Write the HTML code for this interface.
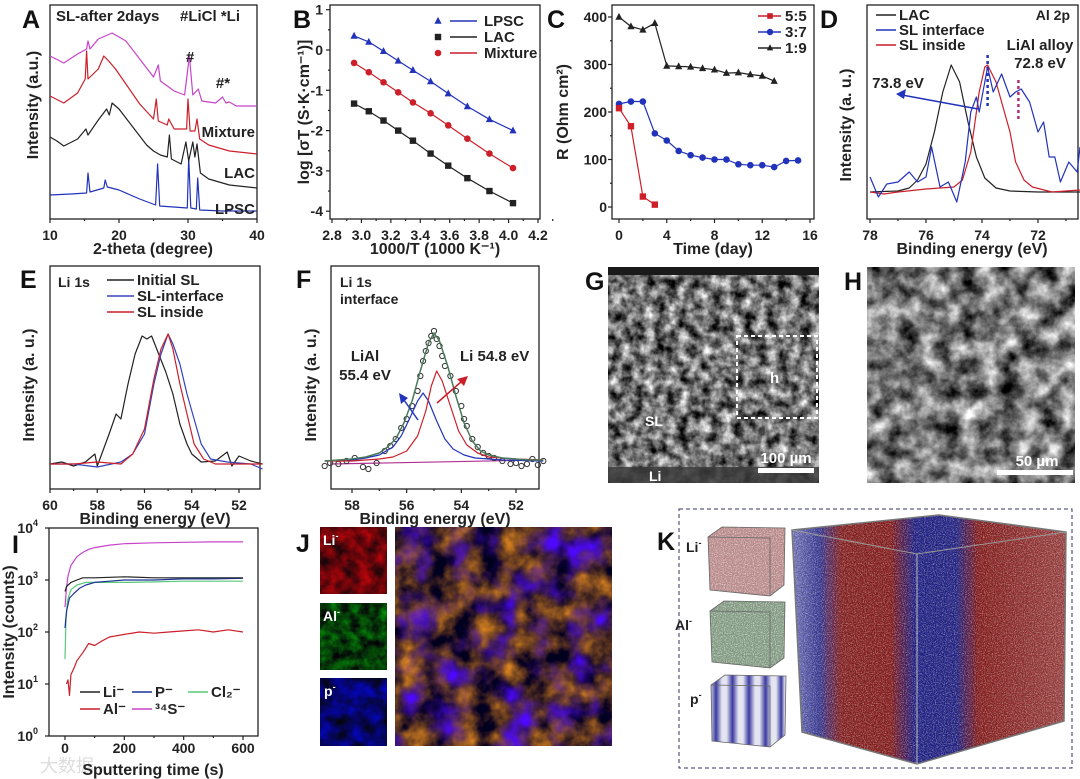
<!DOCTYPE html>
<html><head><meta charset="utf-8">
<style>
html,body{margin:0;padding:0;background:#fff;}
svg{display:block;font-family:"Liberation Sans",Arial,sans-serif;}
filter{color-interpolation-filters:sRGB;}
.tk{font-size:14px;font-weight:bold;fill:#222;}
.ti{font-size:16px;font-weight:bold;fill:#222;}
.pl{font-size:25px;font-weight:bold;fill:#111;}
.lg{font-size:15px;font-weight:bold;fill:#222;}
</style></head>
<body>
<svg id="fig" width="1080" height="779" viewBox="0 0 1080 779" xmlns="http://www.w3.org/2000/svg">
<defs>
 <filter id="semNoise" x="0" y="0" width="100%" height="100%" color-interpolation-filters="sRGB">
  <feTurbulence type="fractalNoise" baseFrequency="0.09" numOctaves="4" seed="3"/>
  <feColorMatrix type="matrix" values="1.5 0 0 0 -0.3  1.5 0 0 0 -0.3  1.5 0 0 0 -0.3  0 0 0 0 1"/>
 </filter>
 <filter id="semNoiseH" x="0" y="0" width="100%" height="100%" color-interpolation-filters="sRGB">
  <feTurbulence type="fractalNoise" baseFrequency="0.05" numOctaves="5" seed="8"/>
  <feColorMatrix type="matrix" values="1.5 0 0 0 -0.28  1.5 0 0 0 -0.28  1.5 0 0 0 -0.28  0 0 0 0 1"/>
 </filter>
 <filter id="redMap" x="0" y="0" width="100%" height="100%" color-interpolation-filters="sRGB">
  <feTurbulence type="fractalNoise" baseFrequency="0.07" numOctaves="4" seed="5"/>
  <feColorMatrix type="matrix" values="1.0 0 0 0 -0.1  0 0 0 0 0.02  0 0 0 0 0.04  0 0 0 0 1"/>
 </filter>
 <filter id="greenMap" x="0" y="0" width="100%" height="100%" color-interpolation-filters="sRGB">
  <feTurbulence type="fractalNoise" baseFrequency="0.1" numOctaves="4" seed="6"/>
  <feColorMatrix type="matrix" values="0 0 0 0 0.02  0.8 0 0 0 -0.16  0 0 0 0 0.03  0 0 0 0 1"/>
 </filter>
 <filter id="blueMap" x="0" y="0" width="100%" height="100%" color-interpolation-filters="sRGB">
  <feTurbulence type="fractalNoise" baseFrequency="0.06" numOctaves="4" seed="7"/>
  <feColorMatrix type="matrix" values="0 0 0 0 0.02  0 0 0 0 0.02  1.2 0 0 0 -0.2  0 0 0 0 1"/>
 </filter>
 <filter id="mixMap" x="0" y="0" width="100%" height="100%" color-interpolation-filters="sRGB">
  <feTurbulence type="fractalNoise" baseFrequency="0.04" numOctaves="4" seed="11"/>
  <feColorMatrix type="matrix" values="0 1.6 0 0 -0.45  0 1.0 0 0 -0.3  0 0 0 0 0.12  0 0 0 0 1" result="warm"/>
  <feTurbulence type="fractalNoise" baseFrequency="0.03" numOctaves="3" seed="21" result="t2"/>
  <feColorMatrix in="t2" type="matrix" values="0 0 0.5 0 -0.1  0 0 0 0 0.03  0 0 1.8 0 -0.45  0 0 2.5 0 -1.0" result="blue"/>
  <feComposite in="blue" in2="warm" operator="over"/>
 </filter>
 <filter id="dots" x="0" y="0" width="100%" height="100%" color-interpolation-filters="sRGB">
  <feTurbulence type="fractalNoise" baseFrequency="0.9" numOctaves="1" seed="2"/>
  <feColorMatrix type="matrix" values="0 0 0 0 1  0 0 0 0 1  0 0 0 0 1  0 0 0 3 -1.3"/>
 </filter>
 <filter id="ddots" x="0" y="0" width="100%" height="100%" color-interpolation-filters="sRGB">
  <feTurbulence type="fractalNoise" baseFrequency="0.8" numOctaves="1" seed="9"/>
  <feColorMatrix type="matrix" values="0 0 0 0 0  0 0 0 0 0  0 0 0 0 0  0 0 0 3 -1.4"/>
 </filter>
 <linearGradient id="cubeGrad" gradientUnits="userSpaceOnUse" x1="792" y1="0" x2="1066" y2="0">
  <stop offset="0" stop-color="#7a7cc0"/>
  <stop offset="0.1" stop-color="#3a3a98"/>
  <stop offset="0.18" stop-color="#8a2222"/>
  <stop offset="0.36" stop-color="#8a1e1e"/>
  <stop offset="0.45" stop-color="#22228a"/>
  <stop offset="0.6" stop-color="#242488"/>
  <stop offset="0.68" stop-color="#8a1e1e"/>
  <stop offset="1" stop-color="#a04444"/>
 </linearGradient>
 <linearGradient id="pStripes" gradientUnits="userSpaceOnUse" x1="710" y1="0" x2="785" y2="0" spreadMethod="repeat">
  <stop offset="0" stop-color="#e4e5f0"/>
  <stop offset="0.08" stop-color="#3a3aa0"/>
  <stop offset="0.16" stop-color="#e4e5f0"/>
  <stop offset="0.22" stop-color="#e4e5f0"/>
  <stop offset="0.3" stop-color="#3a3aa0"/>
  <stop offset="0.38" stop-color="#e4e5f0"/>
  <stop offset="0.44" stop-color="#e4e5f0"/>
  <stop offset="0.52" stop-color="#3a3aa0"/>
  <stop offset="0.6" stop-color="#e4e5f0"/>
  <stop offset="0.66" stop-color="#e4e5f0"/>
  <stop offset="0.74" stop-color="#3a3aa0"/>
  <stop offset="0.82" stop-color="#e4e5f0"/>
  <stop offset="0.88" stop-color="#e4e5f0"/>
  <stop offset="0.95" stop-color="#3a3aa0"/>
  <stop offset="1" stop-color="#e4e5f0"/>
 </linearGradient>
 <clipPath id="cubeClip"><polygon points="792,530 939,515 1066,532 1064,721 917,764 802,732"/></clipPath>
 <clipPath id="liClip"><polygon points="708,537 722,527 785,528 784,585 770,596 710,590"/></clipPath>
 <clipPath id="alClip"><polygon points="710,611 724,601 785,602 784,658 770,668 712,662"/></clipPath>
</defs>

<g>
 <text class="pl" x="585" y="290">G</text>
 <rect x="608" y="267" width="211" height="216" filter="url(#semNoise)"/>
 <rect x="608" y="267" width="211" height="8" fill="#1a1a1a"/>
 <rect x="608" y="467" width="211" height="16" fill="#3a3a3a" opacity="0.85"/>
 <rect x="737" y="336" width="80" height="82" fill="none" stroke="#fff" stroke-width="2" stroke-dasharray="4,3"/>
 <text x="770" y="383" fill="#fff" font-size="15" font-weight="bold">h</text>
 <text x="645" y="426" fill="#fff" font-size="14" font-weight="bold">SL</text>
 <text x="649" y="481" fill="#fff" font-size="14" font-weight="bold">Li</text>
 <text x="786" y="463" fill="#fff" font-size="15" font-weight="bold" text-anchor="middle">100 µm</text>
 <rect x="758" y="468" width="56" height="5" fill="#fff"/>
</g>
<g>
 <text class="pl" x="844" y="290">H</text>
 <rect x="867" y="267" width="208" height="216" filter="url(#semNoiseH)"/>
 <text x="1037" y="466" fill="#fff" font-size="15" font-weight="bold" text-anchor="middle">50 µm</text>
 <rect x="997" y="470" width="76" height="5" fill="#fff"/>
</g>
<g>
 <text class="pl" x="296" y="552">J</text>
 <rect x="320" y="527" width="67" height="67" filter="url(#redMap)"/>
 <rect x="320" y="603" width="67" height="67" filter="url(#greenMap)"/>
 <rect x="320" y="678" width="67" height="68" filter="url(#blueMap)"/>
 <text x="323" y="545" fill="#fff" font-size="14" font-weight="bold">Li<tspan font-size="9" dy="-6">-</tspan></text>
 <text x="323" y="621" fill="#fff" font-size="14" font-weight="bold">Al<tspan font-size="9" dy="-6">-</tspan></text>
 <text x="324" y="696" fill="#fff" font-size="14" font-weight="bold">p<tspan font-size="9" dy="-6">-</tspan></text>
 <rect x="395" y="527" width="217" height="219" fill="#1a0c2a"/>
 <rect x="395" y="527" width="217" height="219" filter="url(#mixMap)"/>
</g>
<g>
 <rect x="679" y="509" width="393" height="259" fill="none" stroke="#336" stroke-width="1" stroke-dasharray="4,3"/>
 <text class="pl" x="657" y="550">K</text>
 <text x="686" y="552" font-size="14" font-weight="bold" fill="#222">Li<tspan font-size="9" dy="-6">-</tspan></text>
 <text x="675" y="630" font-size="14" font-weight="bold" fill="#222">Al<tspan font-size="9" dy="-6">-</tspan></text>
 <text x="690" y="704" font-size="14" font-weight="bold" fill="#222">p<tspan font-size="9" dy="-6">-</tspan></text>
 <g>
  <polygon points="708,537 722,527 785,528 784,585 770,596 710,590" fill="#b88888"/>
  <rect x="708" y="527" width="78" height="70" filter="url(#dots)" opacity="0.6" clip-path="url(#liClip)"/>
  <polygon points="708,537 722,527 785,528 784,585 770,596 710,590" fill="none" stroke="#666" stroke-width="0.8"/>
  <polyline points="708,537 770,538 770,596" fill="none" stroke="#666" stroke-width="0.8"/>
 </g>
 <g>
  <polygon points="710,611 724,601 785,602 784,658 770,668 712,662" fill="#809880"/>
  <rect x="708" y="600" width="78" height="70" filter="url(#dots)" opacity="0.6" clip-path="url(#alClip)"/>
  <polygon points="710,611 724,601 785,602 784,658 770,668 712,662" fill="none" stroke="#666" stroke-width="0.8"/>
  <polyline points="710,611 770,612 770,668" fill="none" stroke="#666" stroke-width="0.8"/>
 </g>
 <g>
  <polygon points="711,685 725,675 786,676 785,735 770,747 712,741" fill="url(#pStripes)"/>
  <polygon points="711,685 725,675 786,676 785,735 770,747 712,741" fill="none" stroke="#666" stroke-width="0.8"/>
  <polyline points="711,685 770,686 770,747" fill="none" stroke="#666" stroke-width="0.8"/>
 </g>
 <g>
  <rect x="790" y="512" width="280" height="255" fill="url(#cubeGrad)" clip-path="url(#cubeClip)"/>
  <rect x="790" y="512" width="280" height="255" filter="url(#dots)" opacity="0.45" clip-path="url(#cubeClip)"/>
  <rect x="790" y="512" width="280" height="255" filter="url(#ddots)" opacity="0.3" clip-path="url(#cubeClip)"/>
  <polygon points="792,530 939,515 1066,532 1064,721 917,764 802,732" fill="none" stroke="#777" stroke-width="1.5"/>
  <polyline points="792,530 917,554 1066,532" fill="none" stroke="#999" stroke-width="1"/>
  <line x1="917" y1="554" x2="917" y2="764" stroke="#bbb" stroke-width="1"/>
 </g>
</g>

<text x="40" y="772" font-size="18" fill="#ddd">大数据</text>

<script>
// ---------- DATA ----------
const lpscTheta=[10,13,15.3,15.5,15.8,17.8,18,18.3,20,23,25.3,25.6,25.9,29.9,30.1,30.4,31.2,31.4,31.7,35,40];
const lpscInt=[24,25,26,46,27,31,39,32,29,20,14,55,13,11,61,11,10,41,9,8,8];
const lacTheta=[10,11,12,14,15.2,15.5,17,18.2,18.6,19,20,22,24,25,26,27,27.3,27.6,29,29.7,30.1,30.7,31,31.3,31.8,33,36,40];
const lacInt=[82,78,73,80,90,84,99,110,104,116,110,92,74,68,64,62,84,60,55,77,58,77,62,75,46,40,34,31];
const mixTheta=[10,12,14,15.1,15.3,15.5,17,17.8,18.5,19.5,21,23,25,25.4,25.7,27,27.2,28,29.8,30,30.3,31,31.3,31.7,33,36,40];
const mixInt=[123,116,126,140,168,140,150,163,158,150,135,115,100,120,98,94,100,90,90,120,88,88,100,80,74,68,65];
const slTheta=[10,12,14,15.3,15.5,15.8,17,19,21,23,25,25.7,26,28,29.5,30.2,30.7,31.5,32,34,35,35.5,36,37,40];
const slInt=[163,156,165,170,178,170,180,186,178,160,142,154,138,128,124,163,124,130,118,116,122,116,117,113,113];
const aTicks=[10,20,30,40];
const bInvT=[2.95,3.05,3.15,3.25,3.35,3.47,3.59,3.72,3.87,4.03];
const bLPSC=[0.35,0.2,-0.03,-0.27,-0.5,-0.78,-1.08,-1.4,-1.72,-2.0];
const bMixture=[-0.32,-0.55,-0.8,-1.05,-1.3,-1.57,-1.87,-2.2,-2.57,-2.93];
const bLAC=[-1.33,-1.52,-1.75,-2.0,-2.25,-2.57,-2.87,-3.18,-3.5,-3.8];
const bXTicks=["2.8","3.0","3.2","3.4","3.6","3.8","4.0","4.2"];
const bYTicks=[1,0,-1,-2,-3,-4];
const c19Days=[0,1,2,3,4,5,6,7,8,9,10,11,12,13];
const c19R=[400,380,373,387,297,296,295,292,289,282,283,279,276,265];
const c37Days=[0,1,2,3,4,5,6,7,8,9,10,11,12,13,14,15];
const c37R=[217,222,222,155,140,118,109,104,100,100,90,88,88,84,97,98];
const c55Days=[0,1,2,3];
const c55R=[208,170,22,5];
const cXTicks=[0,4,8,12,16];
const cYTicks=[0,100,200,300,400];
const dLacE=[78,77,76.6,76.3,76,75.7,75.4,75.1,74.8,74.5,74.2,73.9,73.5,73,72,70.5];
const dLacI=[0,1,4,12,28,60,100,127,110,70,35,14,4,1,0,0];
const dInsideE=[78,77.5,77,76,75,74.7,74.4,74.1,73.9,73.8,73.5,73.2,73,72.8,72.5,72.2,71.5,70.5];
const dInsideI=[0,-2,0,3,5,12,40,100,125,127,110,80,60,30,12,5,0,2];
const dIfaceE=[78,77.7,77.4,77,76.6,76.3,76,75.8,75.5,75.2,74.9,74.6,74.4,74.2,74.1,73.9,73.8,73.6,73.3,73.0,72.8,72.6,72.3,72.0,71.8,71.6,71.4,71.2,70.9,70.6,70.5];
const dIfaceI=[15,-5,8,10,20,10,15,45,5,10,-10,30,80,95,80,110,125,100,118,95,100,103,90,60,70,35,35,10,30,20,45];
const dXTicks=[78,76,74,72];
const eInitE=[60,59.5,59,58.5,58.1,58,57.5,57.2,57,56.7,56.4,56.1,55.9,55.7,55.4,55.1,54.8,54.5,54.2,54,53.6,53,52.5,52.3,52,51.5,51];
const eInitI=[0,2,-2,2,10,-2,30,50,45,80,110,128,125,128,110,92,70,40,20,10,2,3,12,-2,8,3,0];
const eIfaceE=[60,59,58,57,56.5,56,55.6,55.3,55.0,54.8,54.5,54.2,53.9,53.6,53.2,52.5,51.5,51];
const eIfaceI=[0,0,-3,2,10,30,80,110,130,120,100,70,45,20,5,2,0,-5];
const eInsideE=[60,59,58,57,56.5,56,55.6,55.3,55,54.8,54.5,54.2,53.9,53.5,53,51];
const eInsideI=[0,0,2,0,10,35,85,115,130,115,80,50,20,5,0,0];
const eXTicks=[60,58,56,54,52];
const fEnvE=[59,58.5,58,57.5,57,56.7,56.4,56.1,55.8,55.5,55.2,55.0,54.8,54.5,54.2,53.9,53.6,53.3,53,52.5,52,51.5,51];
const fEnvI=[0,1,2,4,8,14,22,38,60,90,118,128,120,95,65,38,20,10,6,3,2,1,1];
const fLiE=[59,58,57,56.5,56,55.6,55.3,55.1,54.9,54.7,54.4,54.1,53.8,53.4,53,52,51];
const fLiI=[0,0,2,4,10,25,50,75,90,80,55,30,16,8,4,2,1];
const fLiAlE=[59,58,57.5,57,56.5,56.2,55.9,55.6,55.4,55.2,54.9,54.6,54.3,53.9,53.5,52.5,51];
const fLiAlI=[0,1,3,6,14,25,42,60,68,60,40,22,12,6,3,1,0];
const fDataE=[59,58.8,58.5,58.2,57.9,57.6,57.4,57.1,56.8,56.6,56.4,56.2,56,55.8,55.6,55.5,55.4,55.3,55.2,55.1,55,54.9,54.8,54.7,54.6,54.4,54.2,54,53.9,53.8,53.6,53.4,53.2,53,52.8,52.5,52.2,52,51.8,51.6,51.4,51.2,51];
const fDataI=[-5,-2,-3,0,3,-6,-8,-2,10,15,22,33,42,55,70,85,100,110,118,125,130,122,115,105,95,85,70,55,42,35,22,14,8,5,3,0,-3,-2,-5,-3,2,-4,0];
const fXTicks=[58,56,54,52];
const iSTime=[0,5,10,20,40,60,80,100,150,200,300,400,500,600];
const iSCounts=[300,700,1200,1900,2800,3400,3900,4200,4700,5000,5200,5300,5400,5400];
const iLiTime=[0,5,20,40,60,100,200,300,400,500,600];
const iLiCounts=[600,750,900,1000,1100,1100,1150,1100,1100,1100,1100];
const iPTime=[0,5,15,30,50,70,100,150,200,300,400,500,600];
const iPCounts=[120,250,450,550,700,800,900,950,1000,1000,1050,1050,1080];
const iClTime=[0,3,8,20,40,70,100,200,300,400,500,600];
const iClCounts=[30,150,400,650,800,900,900,900,920,950,950,950];
const iAlTime=[5,10,15,20,30,40,60,80,100,120,150,200,250,300,350,400,450,500,550,600];
const iAlCounts=[10,12,6,15,20,28,40,60,55,65,80,90,100,95,100,105,110,100,110,100];
const iXTicks=[0,200,400,600];
const iYExp=[0,1,2,3,4];

// ---------- HELPERS ----------
const NS='http://www.w3.org/2000/svg';
const svg=document.getElementById('fig');
function mk(tag,attrs,parent){const e=document.createElementNS(NS,tag);for(const k in attrs)e.setAttribute(k,attrs[k]);(parent||svg).appendChild(e);return e;}
function lin(d0,d1,r0,r1){return v=>r0+(v-d0)*(r1-r0)/(d1-d0);}
function group(name){const g=mk('g',{});


return g;}
function text(g,x,y,s,cls,anchor,name){const t=mk('text',{x:x,y:y,class:cls,'text-anchor':anchor||'start'},g);t.textContent=s;


return t;}
function vtext(g,x,y,s,name){const t=mk('text',{x:0,y:0,class:'ti','text-anchor':'middle',transform:'translate('+x+','+y+') rotate(-90)'},g);t.textContent=s;


return t;}
function frame(g,x0,y0,x1,y1){const r=mk('rect',{x:x0,y:y0,width:x1-x0,height:y1-y0,fill:'none',stroke:'#222','stroke-width':1.3},g);

}
function line(g,xs,ys,sx,sy,color,name,w){const pts=xs.map((v,i)=>sx(v).toFixed(1)+','+sy(ys[i]).toFixed(1)).join(' ');
const p=mk('polyline',{points:pts,fill:'none',stroke:color,'stroke-width':w||1.2,'stroke-linejoin':'round'},g);


return p;}
function marker(g,kind,x,y,color,name,sz){sz=sz||3.6;let m;
if(kind==='tri')m=mk('polygon',{points:`${x},${y-sz-0.5} ${x-sz},${y+sz-0.8} ${x+sz},${y+sz-0.8}`,fill:color},g);
else if(kind==='sq')m=mk('rect',{x:x-sz+0.4,y:y-sz+0.4,width:2*sz-0.8,height:2*sz-0.8,fill:color},g);
else if(kind==='open')m=mk('circle',{cx:x,cy:y,r:sz,fill:'none',stroke:color,'stroke-width':1},g);
else m=mk('circle',{cx:x,cy:y,r:sz,fill:color},g);

}
function xtick(g,x,yb,len){const l=mk('line',{x1:x,y1:yb,x2:x,y2:yb+len,stroke:'#222','stroke-width':1.2},g);

}
function ytick(g,xl,y,len){const l=mk('line',{x1:xl,y1:y,x2:xl-len,y2:y,stroke:'#222','stroke-width':1.2},g);

}

// ---------- PANEL A ----------
(function(){const g=group('panel-a-xrd');
const sx=lin(10,40,50,257), sy=v=>219-v;
frame(g,50,5,257,219);
aTicks.forEach(t=>{xtick(g,sx(t),219,4);text(g,sx(t),240,String(t),'tk','middle','x-tick-label');});
[15,25,35].forEach(t=>xtick(g,sx(t),219,2));
line(g,lpscTheta,lpscInt,sx,sy,'#2233bb','lpsc-pattern');
line(g,lacTheta,lacInt,sx,sy,'#222','lac-pattern');
line(g,mixTheta,mixInt,sx,sy,'#cc1f2a','mixture-pattern');
line(g,slTheta,slInt,sx,sy,'#c844c8','sl-after-2days-pattern');
text(g,22,28,'A','pl','start','panel-label-a');
text(g,56,21,'SL-after 2days','lg','start','sl-series-label').setAttribute('fill','#c844c8');
text(g,180,21,'#LiCl *Li','lg','start','phase-key');
text(g,190,62,'#','lg','middle','licl-peak-mark');
text(g,223,88,'#*','lg','middle','licl-li-peak-mark');
text(g,255,137,'Mixture','lg','end','mixture-label').setAttribute('fill','#cc1f2a');
text(g,255,178,'LAC','lg','end','lac-label');
text(g,255,214,'LPSC','lg','end','lpsc-label').setAttribute('fill','#2233bb');
text(g,153,254,'2-theta (degree)','ti','middle','x-axis-title-a');
vtext(g,38,105,'Intensity (a.u.)','y-axis-title-a');
})();

// ---------- PANEL B ----------
(function(){const g=group('panel-b-arrhenius');
const sx=lin(2.8,4.2,332,538), sy=lin(0,1,50,9.7);
frame(g,330,5,540,219);
bXTicks.forEach(t=>{const v=parseFloat(t);xtick(g,sx(v),219,4);text(g,sx(v),240,t,'tk','middle','x-tick-label');});
bXTicks.forEach(t=>xtick(g,sx(parseFloat(t)+0.1),219,2));
bYTicks.forEach(t=>{ytick(g,330,sy(t),4);text(g,323,sy(t)+5,String(t),'tk','end','y-tick-label');});
[0.5,-0.5,-1.5,-2.5,-3.5].forEach(t=>ytick(g,330,sy(t),2));
line(g,bInvT,bLPSC,sx,sy,'#2233bb','lpsc-fit');
line(g,bInvT,bMixture,sx,sy,'#cc1f2a','mixture-fit');
line(g,bInvT,bLAC,sx,sy,'#222','lac-fit');
bInvT.forEach((v,i)=>{marker(g,'tri',sx(v),sy(bLPSC[i]),'#2233bb','lpsc-point');marker(g,'dot',sx(v),sy(bMixture[i]),'#cc1f2a','mixture-point',3.3);marker(g,'sq',sx(v),sy(bLAC[i]),'#222','lac-point');});
marker(g,'tri',438,21,'#2233bb','legend-lpsc-marker');mk('line',{x1:450,y1:21,x2:477,y2:21,stroke:'#2233bb','stroke-width':1.5},g);text(g,484,26,'LPSC','lg','start','legend-lpsc');
marker(g,'sq',438,37,'#222','legend-lac-marker');mk('line',{x1:450,y1:37,x2:477,y2:37,stroke:'#222','stroke-width':1.5},g);text(g,484,42,'LAC','lg','start','legend-lac');
marker(g,'dot',438,53,'#cc1f2a','legend-mixture-marker',3.3);mk('line',{x1:450,y1:53,x2:477,y2:53,stroke:'#cc1f2a','stroke-width':1.5},g);text(g,484,58,'Mixture','lg','start','legend-mixture');
text(g,293,28,'B','pl','start','panel-label-b');
text(g,435,254,'1000/T (1000 K\u207B\u00B9)','ti','middle','x-axis-title-b');
vtext(g,309,112,'log [\u03C3T (S\u00B7K\u00B7cm\u207B\u00B9)]','y-axis-title-b');
})();

// ---------- PANEL C ----------
(function(){const g=group('panel-c-resistance');
const sx=lin(0,16,619,810), sy=lin(0,400,207,17);
frame(g,612,5,814,219);
cXTicks.forEach(t=>{xtick(g,sx(t),219,4);text(g,sx(t),240,String(t),'tk','middle','x-tick-label');});
[2,6,10,14].forEach(t=>xtick(g,sx(t),219,2));
cYTicks.forEach(t=>{ytick(g,612,sy(t),4);text(g,607,sy(t)+5,String(t),'tk','end','y-tick-label');});
[50,150,250,350].forEach(t=>ytick(g,612,sy(t),2));
line(g,c19Days,c19R,sx,sy,'#222','ratio-1-9-line');
line(g,c37Days,c37R,sx,sy,'#2233bb','ratio-3-7-line');
line(g,c55Days,c55R,sx,sy,'#cc1f2a','ratio-5-5-line');
c19Days.forEach((d,i)=>marker(g,'tri',sx(d),sy(c19R[i]),'#222','ratio-1-9-point'));
c37Days.forEach((d,i)=>marker(g,'dot',sx(d),sy(c37R[i]),'#2233bb','ratio-3-7-point',3.3));
c55Days.forEach((d,i)=>marker(g,'sq',sx(d),sy(c55R[i]),'#cc1f2a','ratio-5-5-point'));
[[16,'#cc1f2a','sq','5:5'],[32,'#2233bb','dot','3:7'],[48,'#222','tri','1:9']].forEach(r=>{mk('line',{x1:758,y1:r[0],x2:781,y2:r[0],stroke:r[1],'stroke-width':1.5},g);marker(g,r[2],770,r[0],r[1],'legend-marker',3.2);text(g,785,r[0]+5,r[3],'lg','start','legend-'+r[3].replace(':','-'));});
text(g,547,28,'C','pl','start','panel-label-c');
text(g,713,254,'Time (day)','ti','middle','x-axis-title-c');
vtext(g,568,112,'R (Ohm cm\u00B2)','y-axis-title-c');
})();

// ---------- PANEL D ----------
(function(){const g=group('panel-d-al2p');
const sx=lin(78,72,870,1038), sy=v=>192-v;
frame(g,867,5,1078,219);
dXTicks.forEach(t=>{xtick(g,sx(t),219,4);text(g,sx(t),240,String(t),'tk','middle','x-tick-label');});
[77,75,73,71].forEach(t=>xtick(g,sx(t),219,2));
line(g,dLacE,dLacI,sx,sy,'#222','lac-spectrum');
line(g,dInsideE,dInsideI,sx,sy,'#cc1f2a','sl-inside-spectrum');
line(g,dIfaceE,dIfaceI,sx,sy,'#2233bb','sl-interface-spectrum');
mk('line',{x1:sx(73.8),y1:55,x2:sx(73.8),y2:108,stroke:'#2233bb','stroke-width':2.5,'stroke-dasharray':'3,3'},g);
mk('line',{x1:sx(72.7),y1:80,x2:sx(72.7),y2:120,stroke:'#b0307a','stroke-width':2.5,'stroke-dasharray':'3,3'},g);
mk('line',{x1:978,y1:109,x2:902,y2:95,stroke:'#2233bb','stroke-width':1.5},g);
mk('polygon',{points:'896,94 906,89 904,99',fill:'#2233bb'},g);
[[15,'#222','LAC'],[30,'#2233bb','SL interface'],[45,'#cc1f2a','SL inside']].forEach(r=>{mk('line',{x1:876,y1:r[0],x2:896,y2:r[0],stroke:r[1],'stroke-width':1.5},g);text(g,899,r[0]+5,r[2],'lg','start','legend-'+r[2].toLowerCase().replace(' ','-'));});
text(g,1070,20,'Al 2p','tk','end','spectrum-label-al2p');
text(g,1040,50,'LiAl alloy','lg','middle','lial-alloy-label').setAttribute('fill','#c02a50');
text(g,1040,68,'72.8 eV','lg','middle','lial-energy-label').setAttribute('fill','#c02a50');
text(g,898,88,'73.8 eV','lg','middle','shift-energy-label').setAttribute('fill','#2233bb');
text(g,820,28,'D','pl','start','panel-label-d');
text(g,972,254,'Binding energy (eV)','ti','middle','x-axis-title-d');
vtext(g,851,125,'Intensity (a. u.)','y-axis-title-d');
})();

// ---------- PANEL E ----------
(function(){const g=group('panel-e-li1s');
const sx=lin(60,52,50,239), sy=v=>464-v;
frame(g,50,266,260,489);
eXTicks.forEach(t=>{xtick(g,sx(t),489,4);text(g,sx(t),510,String(t),'tk','middle','x-tick-label');});
[59,57,55,53].forEach(t=>xtick(g,sx(t),489,2));
line(g,eInitE,eInitI,sx,sy,'#222','initial-sl-spectrum');
line(g,eIfaceE,eIfaceI,sx,sy,'#3344bb','sl-interface-spectrum');
line(g,eInsideE,eInsideI,sx,sy,'#cc1f2a','sl-inside-spectrum');
text(g,58,287,'Li 1s','tk','start','spectrum-label-li1s');
[[280,'#222','Initial SL'],[296,'#3344bb','SL-interface'],[312,'#cc1f2a','SL inside']].forEach(r=>{mk('line',{x1:107,y1:r[0],x2:134,y2:r[0],stroke:r[1],'stroke-width':1.5},g);text(g,137,r[0]+5,r[2],'lg','start','legend-'+r[2].toLowerCase().replace(' ','-'));});
text(g,20,288,'E','pl','start','panel-label-e');
text(g,155,524,'Binding energy (eV)','ti','middle','x-axis-title-e');
vtext(g,34,385,'Intensity (a. u.)','y-axis-title-e');
})();

// ---------- PANEL F ----------
(function(){const g=group('panel-f-li1s-fit');
const sx=lin(58,52,352,516), sy=v=>461-v;
frame(g,331,266,539,489);
fXTicks.forEach(t=>{xtick(g,sx(t),489,4);text(g,sx(t),510,String(t),'tk','middle','x-tick-label');});
[57,55,53].forEach(t=>xtick(g,sx(t),489,2));
const bl=mk('line',{x1:331,y1:sy(-3),x2:539,y2:sy(1),stroke:'#b03090','stroke-width':1.2},g);


fDataE.forEach((e,i)=>marker(g,'open',sx(e),sy(fDataI[i]),'#333','measured-point',2.6));
line(g,fLiAlE,fLiAlI,sx,sy,'#2233bb','lial-component');
line(g,fLiE,fLiI,sx,sy,'#cc1f2a','li-component');
line(g,fEnvE,fEnvI,sx,sy,'#4a7a5a','envelope-fit',1.5);
mk('line',{x1:418,y1:420,x2:404,y2:400,stroke:'#2233bb','stroke-width':1.5},g);
mk('polygon',{points:'399,393 408,398 401,404',fill:'#2233bb'},g);
mk('line',{x1:437,y1:403,x2:462,y2:381,stroke:'#cc1f2a','stroke-width':1.5},g);
mk('polygon',{points:'468,376 464,386 457,379',fill:'#cc1f2a'},g);
text(g,340,287,'Li 1s','tk','start','spectrum-label-li1s-f');
text(g,340,304,'interface','tk','start','spectrum-label-interface');
text(g,365,361,'LiAl','lg','middle','lial-label').setAttribute('fill','#2233bb');
text(g,365,380,'55.4 eV','lg','middle','lial-energy-label').setAttribute('fill','#2233bb');
text(g,460,361,'Li 54.8 eV','lg','start','li-energy-label').setAttribute('fill','#cc1f2a');
text(g,296,288,'F','pl','start','panel-label-f');
text(g,435,524,'Binding energy (eV)','ti','middle','x-axis-title-f');
vtext(g,316,385,'Intensity (a. u.)','y-axis-title-f');
})();

// ---------- PANEL I ----------
(function(){const g=group('panel-i-depth-profile');
const sx=lin(0,600,65,243), sy=v=>736-Math.log10(v)*52;
frame(g,49,528,258,736);
iXTicks.forEach(t=>{xtick(g,sx(t),736,4);text(g,sx(t),753,String(t),'tk','middle','x-tick-label');});
[100,300,500].forEach(t=>xtick(g,sx(t),736,2));
iYExp.forEach(e=>{const y=736-e*52;ytick(g,49,y,4);const t=text(g,38,y+5,'10','tk','end','y-tick-label');const s=mk('tspan',{'font-size':'9',dy:'-7'},t);s.textContent=String(e);});
line(g,iSTime,iSCounts,sx,sy,'#c844c8','s34-profile');
line(g,iClTime,iClCounts,sx,sy,'#5ac87a','cl2-profile');
line(g,iPTime,iPCounts,sx,sy,'#1a3399','p-profile');
line(g,iLiTime,iLiCounts,sx,sy,'#222','li-profile');
line(g,iAlTime,iAlCounts,sx,sy,'#cc1f2a','al-profile');
[[80,692,'#222','Li\u207B'],[132,692,'#1a3399','P\u207B'],[188,692,'#5ac87a','Cl\u2082\u207B'],[80,709,'#cc1f2a','Al\u207B'],[132,709,'#c844c8','\u00B3\u2074S\u207B']].forEach(r=>{mk('line',{x1:r[0],y1:r[1],x2:r[0]+20,y2:r[1],stroke:r[2],'stroke-width':1.6},g);text(g,r[0]+23,r[1]+5,r[3],'lg','start','legend-entry');});
text(g,12,553,'I','pl','start','panel-label-i');
text(g,153,775,'Sputtering time (s)','ti','middle','x-axis-title-i');
vtext(g,14,632,'Intensity (counts)','y-axis-title-i');
})();
</script>
</svg>
</body></html>
